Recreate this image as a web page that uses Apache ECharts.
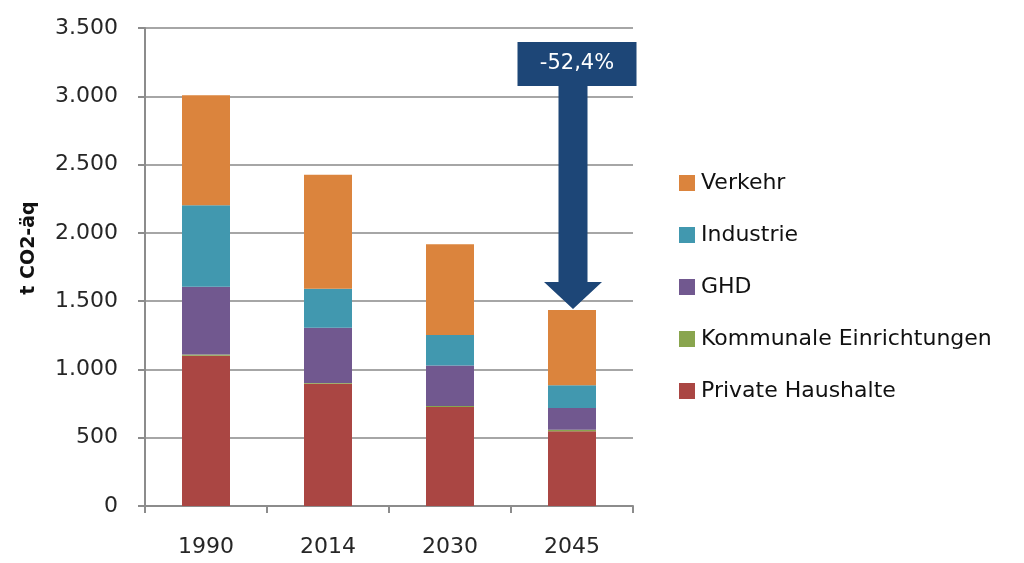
<!DOCTYPE html>
<html>
<head>
<meta charset="utf-8">
<script src="https://cdn.jsdelivr.net/npm/echarts@6/dist/echarts.min.js"></script>
<style>
  html, body { margin: 0; padding: 0; background: #fff; }
  #main { width: 1024px; height: 563px; }
</style>
</head>
<body>
<div id="main"></div>
<script>
// Daten
var years = ['1990', '2014', '2030', '2045'];
var privateHaushalte = [1100, 895, 725, 548];
var kommunale = [10, 5, 8, 10];
var ghd = [495, 405, 295, 160];
var industrie = [597, 285, 224, 167];
var verkehr = [805, 835, 664, 550];
var yTicks = [0, 500, 1000, 1500, 2000, 2500, 3000, 3500];
var changeLabel = '-52,4%';

var font = '"DejaVu Sans", "Open Sans", sans-serif';
var chartDom = document.getElementById('main');
var myChart = echarts.init(chartDom);

function fmt(v) {
  return String(v).replace(/\B(?=(\d{3})+(?!\d))/g, '.');
}

function bar(name, data, color) {
  return {
    name: name,
    type: 'bar',
    stack: 'total',
    barWidth: 48,
    data: data,
    itemStyle: { color: color },
    emphasis: { disabled: true }
  };
}

var option = {
  animation: false,
  grid: { left: 145, right: 391, top: 28, bottom: 57 },
  legend: {
    orient: 'vertical',
    left: 679,
    top: 172,
    padding: 0,
    itemWidth: 16,
    itemHeight: 16,
    itemGap: 30,
    icon: 'rect',
    textStyle: { fontFamily: font, fontSize: 22, color: '#111', padding: [0, 0, 0, 1] },
    data: ['Verkehr', 'Industrie', 'GHD', 'Kommunale Einrichtungen', 'Private Haushalte']
  },
  xAxis: {
    type: 'category',
    data: years,
    axisLine: { lineStyle: { color: '#8c8c8c', width: 2 } },
    axisTick: { show: true, length: 7, lineStyle: { color: '#8c8c8c', width: 2 } },
    axisLabel: { fontFamily: font, fontSize: 22, color: '#262626', margin: 30 }
  },
  yAxis: {
    type: 'value',
    min: yTicks[0],
    max: yTicks[yTicks.length - 1],
    interval: yTicks[1] - yTicks[0],
    name: 't CO2-äq',
    nameLocation: 'middle',
    nameGap: 106,
    nameTextStyle: { fontFamily: font, fontSize: 19, fontWeight: 'bold', color: '#111', padding: [0, 0, 0, 38] },
    axisLine: { show: true, lineStyle: { color: '#8c8c8c', width: 2 } },
    axisTick: { show: true, inside: false, length: 7, lineStyle: { color: '#8c8c8c', width: 2 } },
    axisLabel: { fontFamily: font, fontSize: 22, color: '#262626', margin: 27, formatter: fmt },
    splitLine: { lineStyle: { color: '#a6a6a6', width: 2 } }
  },
  series: [
    bar('Private Haushalte', privateHaushalte, '#AA4643'),
    bar('Kommunale Einrichtungen', kommunale, '#89A54E'),
    bar('GHD', ghd, '#71588F'),
    bar('Industrie', industrie, '#4198AF'),
    bar('Verkehr', verkehr, '#DB843D')
  ]
};
myChart.setOption(option);

// Pfeil über dem letzten Balken
var last = years.length - 1;
var total = privateHaushalte[last] + kommunale[last] + ghd[last] + industrie[last] + verkehr[last];
var cx = myChart.convertToPixel({ xAxisIndex: 0 }, years[last]) + 1;
var tipY = myChart.convertToPixel({ yAxisIndex: 0 }, total) - 1;
var topY = myChart.convertToPixel({ yAxisIndex: 0 }, 3500);
var boxTop = topY + 14, boxH = 44, boxW = 119;
var shaftTop = boxTop + boxH, headH = 27, shaftHalf = 14.5, headHalf = 29;
var blue = '#1D4677';

myChart.setOption({
  graphic: [
    {
      type: 'polygon',
      shape: {
        points: [
          [cx - shaftHalf, shaftTop], [cx + shaftHalf, shaftTop],
          [cx + shaftHalf, tipY - headH], [cx + headHalf, tipY - headH],
          [cx, tipY], [cx - headHalf, tipY - headH],
          [cx - shaftHalf, tipY - headH]
        ]
      },
      style: { fill: blue }
    },
    {
      type: 'rect',
      shape: { x: cx + 4 - boxW / 2, y: boxTop, width: boxW, height: boxH },
      style: { fill: blue }
    },
    {
      type: 'text',
      x: cx + 4,
      y: boxTop + boxH / 2,
      style: {
        text: changeLabel,
        fill: '#ffffff',
        font: '21px ' + font,
        align: 'center',
        verticalAlign: 'middle'
      }
    }
  ]
});
</script>
</body>
</html>
